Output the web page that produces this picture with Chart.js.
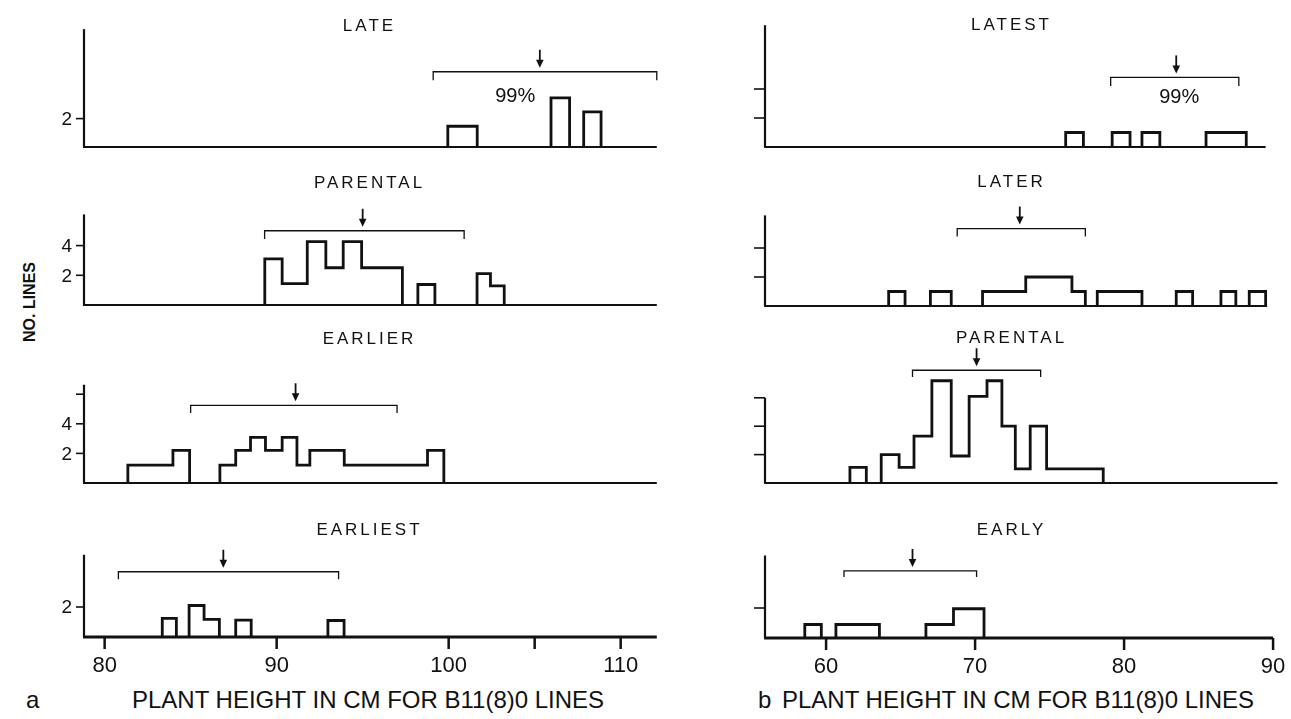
<!DOCTYPE html>
<html lang="en">
<head>
    <meta charset="UTF-8">
    <title>Plant height in cm for B11(8)0 lines</title>
    <script src="https://cdn.jsdelivr.net/npm/chart.js"></script>
    <style>
        body { margin: 0; width: 1291px; height: 719px; position: relative; overflow: hidden; background: #fff; color: #111; font-family: "Liberation Sans", Arial, sans-serif; }
        canvas { position: absolute; }
        .txt { position: absolute; white-space: nowrap; line-height: 1; }
        #ylab { left: 30px; top: 302px; font-size: 16px; font-weight: bold; transform: translate(-50%, -50%) rotate(-90deg); }
        .cap { font-size: 24px; top: 688px; }
    </style>
</head>
<body>
    <div class="txt" id="ylab">NO. LINES</div>
    <div class="txt cap" style="left: 26px;">a</div>
    <div class="txt cap" style="left: 132px;">PLANT HEIGHT IN CM FOR B11(8)0 LINES</div>
    <div class="txt cap" style="left: 758px;">b</div>
    <div class="txt cap" style="left: 782px;">PLANT HEIGHT IN CM FOR B11(8)0 LINES</div>

    <script>
        // bins: [from cm, to cm, no. of lines]
        const lateBins = [[99.95, 101.66, 1.46], [105.95, 107.03, 3.46], [107.85, 108.86, 2.47]];
        const parentalABins = [[89.31, 90.32, 3.11], [90.32, 91.78, 1.44], [91.78, 92.86, 4.27], [92.86, 93.87, 2.51],
            [93.87, 94.94, 4.27], [94.94, 97.31, 2.51], [98.21, 99.2, 1.38], [101.65, 102.43, 2.11], [102.43, 103.23, 1.29]];
        const earlierBins = [[81.35, 83.97, 1.21], [83.97, 84.94, 2.2], [86.7, 87.62, 1.21], [87.62, 88.48, 2.2],
            [88.48, 89.35, 3.08], [89.35, 90.32, 2.2], [90.32, 91.18, 3.08], [91.18, 91.93, 1.21],
            [91.93, 93.93, 2.2], [93.93, 98.77, 1.21], [98.77, 99.72, 2.2]];
        const earliestBins = [[83.35, 84.17, 1.24], [84.91, 85.78, 2.1], [85.78, 86.67, 1.17], [87.62, 88.52, 1.13], [92.98, 93.92, 1.1]];

        const latestBins = [[76.08, 77.27, 1], [79.2, 80.4, 1], [81.2, 82.4, 1], [85.5, 88.2, 1]];
        const laterBins = [[64.2, 65.3, 1], [67.0, 68.4, 1], [70.5, 73.4, 1], [73.4, 76.5, 2], [76.5, 77.4, 1],
            [78.2, 81.2, 1], [83.5, 84.6, 1], [86.5, 87.5, 1], [88.4, 89.5, 1]];
        const parentalBBins = [[61.6, 62.7, 1.1], [63.7, 64.9, 2], [64.9, 65.9, 1.1], [65.9, 67.1, 3.3], [67.1, 68.4, 7.2],
            [68.4, 69.6, 1.9], [69.6, 70.8, 6.1], [70.8, 71.8, 7.2], [71.8, 72.7, 4], [72.7, 73.7, 1],
            [73.7, 74.8, 4], [74.8, 78.6, 1]];
        const earlyBins = [[58.57, 59.68, 0.9], [60.66, 63.58, 0.9], [66.7, 68.55, 0.9], [68.55, 70.6, 1.95]];

        // panel order: a = LATE, PARENTAL, EARLIER, EARLIEST ; b = LATEST, LATER, PARENTAL, EARLY
        const panelTitles = ['LATE', 'PARENTAL', 'EARLIER', 'EARLIEST', 'LATEST', 'LATER', 'PARENTAL', 'EARLY'];
        const panelBins = [lateBins, parentalABins, earlierBins, earliestBins, latestBins, laterBins, parentalBBins, earlyBins];
        const rangeLow = [99.1, 89.3, 85.0, 80.8, 79.1, 68.8, 65.8, 61.2];
        const rangeHigh = [112.1, 100.9, 97.0, 93.6, 87.7, 77.4, 74.4, 70.1];
        const meanMark = [105.3, 95.0, 91.1, 86.9, 83.5, 73.0, 70.1, 65.8];
        const pctLabel = ['99%', '', '', '', '99%', '', '', ''];
        const yTicks = [[2], [2, 4], [2, 4, 6], [2], [2, 4], [2, 4], [2, 4, 6], [2]];
        const yTickLabels = [['2'], ['2', '4'], ['2', '4', ''], ['2'], [], [], [], []];
        const xTicksA = [80, 90, 100, 105, 110];
        const xLabelsA = ['80', '90', '100', '', '110'];
        const xTicksB = [60, 70, 80, 90];
        const xLabelsB = ['60', '70', '80', '90'];

        const ink = '#111';

        // column geometry (px) and the cm range each column covers
        const columns = {
            a: { left: 0, width: 680, areaLeft: 84, areaRight: 658, min: 78.8, max: 112.17, titleX: 368, tickLen: 8, xTicks: xTicksA, xLabels: xLabelsA },
            b: { left: 690, width: 601, areaLeft: 765, areaRight: 1278, min: 55.9, max: 90.33, titleX: 1010, tickLen: 11, xTicks: xTicksB, xLabels: xLabelsB }
        };

        // base = baseline y (px), ppu = px per line, the rest in "no. lines" units
        const layout = [
            { col: 'a', base: 147, ppu: 14.2, title: 8.5, axisTop: 8.3, brY: 5.3, drop: 0.6, end: 112.1, pct: [103.87, 3.58] },
            { col: 'a', base: 305, ppu: 14.85, title: 8.2, axisTop: 6.1, brY: 5.0, drop: 0.56, end: 112.1 },
            { col: 'a', base: 483, ppu: 14.8, title: 9.7, axisTop: 6.64, brY: 5.25, drop: 0.52, end: 112.1 },
            { col: 'a', base: 637, ppu: 15, title: 7.1, axisTop: 5.48, brY: 4.35, drop: 0.5, end: 112.1, xAxis: true },
            { col: 'b', base: 147, ppu: 14.5, title: 8.4, axisTop: 8.4, brY: 4.8, drop: 0.6, end: 89.5, pct: [83.7, 3.4] },
            { col: 'b', base: 306, ppu: 14.5, title: 8.5, axisTop: 6.25, brY: 5.34, drop: 0.54, end: 89.6 },
            { col: 'b', base: 483, ppu: 14.2, title: 10.2, axisTop: 6.0, brY: 7.94, drop: 0.47, end: 90.3 },
            { col: 'b', base: 638, ppu: 15, title: 7.15, axisTop: 5.5, brY: 4.47, drop: 0.41, end: 90.0, xAxis: true }
        ];

        // turn bins into outline points, one dataset for each run of touching bins
        function outlineDatasets(bins) {
            const runs = [];
            let run = null, lastTo = null;
            bins.forEach(([from, to, n]) => {
                if (run === null || Math.abs(from - lastTo) > 0.05) {
                    if (run) { run.push({ x: lastTo, y: 0 }); runs.push(run); }
                    run = [{ x: from, y: 0 }];
                }
                run.push({ x: from, y: n });
                lastTo = to;
            });
            if (run) { run.push({ x: lastTo, y: 0 }); runs.push(run); }
            return runs.map(pts => ({
                data: pts,
                stepped: true,
                borderColor: ink,
                borderWidth: 2.8,
                pointRadius: 0,
                fill: false,
                clip: false
            }));
        }

        function decor(i, p, c) {
            return {
                id: 'decor' + i,
                afterDatasetsDraw(chart) {
                    const ctx = chart.ctx;
                    const X = v => chart.scales.x.getPixelForValue(v);
                    const Y = v => chart.scales.y.getPixelForValue(v);
                    const x0 = X(c.min);
                    ctx.save();
                    ctx.strokeStyle = ink;
                    ctx.fillStyle = ink;

                    // axes
                    ctx.lineWidth = 2.2;
                    ctx.beginPath();
                    ctx.moveTo(x0, Y(p.axisTop));
                    ctx.lineTo(x0, Y(0));
                    ctx.stroke();
                    ctx.lineWidth = p.xAxis ? 3 : 2;
                    ctx.beginPath();
                    ctx.moveTo(x0 - 1, Y(0));
                    ctx.lineTo(X(p.end), Y(0));
                    ctx.stroke();

                    // y ticks
                    ctx.lineWidth = 1.6;
                    ctx.font = '19px "Liberation Sans", Arial, sans-serif';
                    ctx.textAlign = 'right';
                    ctx.textBaseline = 'middle';
                    yTicks[i].forEach((t, k) => {
                        ctx.beginPath();
                        ctx.moveTo(x0 - c.tickLen, Y(t));
                        ctx.lineTo(x0, Y(t));
                        ctx.stroke();
                        const lab = yTickLabels[i][k];
                        if (lab) ctx.fillText(lab, x0 - 12, Y(t) + 1);
                    });

                    // x ticks on the bottom panels
                    if (p.xAxis) {
                        ctx.lineWidth = 2.5;
                        ctx.font = '22px "Liberation Sans", Arial, sans-serif';
                        ctx.textAlign = 'center';
                        ctx.textBaseline = 'middle';
                        c.xTicks.forEach((t, k) => {
                            ctx.beginPath();
                            ctx.moveTo(X(t), Y(0));
                            ctx.lineTo(X(t), Y(0) + 12);
                            ctx.stroke();
                            if (c.xLabels[k]) ctx.fillText(c.xLabels[k], X(t), Y(0) + 29);
                        });
                    }

                    // confidence bracket and arrow at the mean
                    ctx.lineWidth = 1.3;
                    ctx.beginPath();
                    ctx.moveTo(X(rangeLow[i]), Y(p.brY - p.drop));
                    ctx.lineTo(X(rangeLow[i]), Y(p.brY));
                    ctx.lineTo(X(rangeHigh[i]), Y(p.brY));
                    ctx.lineTo(X(rangeHigh[i]), Y(p.brY - p.drop));
                    ctx.stroke();
                    const ax = X(meanMark[i]);
                    const tip = Y(p.brY) - 4;
                    ctx.lineWidth = 1.8;
                    ctx.beginPath();
                    ctx.moveTo(ax, tip - 18);
                    ctx.lineTo(ax, tip - 6);
                    ctx.stroke();
                    ctx.beginPath();
                    ctx.moveTo(ax - 3.8, tip - 8);
                    ctx.lineTo(ax + 3.8, tip - 8);
                    ctx.lineTo(ax, tip);
                    ctx.closePath();
                    ctx.fill();

                    if (pctLabel[i]) {
                        ctx.font = '20px "Liberation Sans", Arial, sans-serif';
                        ctx.textAlign = 'center';
                        ctx.textBaseline = 'middle';
                        ctx.fillText(pctLabel[i], X(p.pct[0]), Y(p.pct[1]));
                    }

                    // panel title
                    ctx.font = '17px "Liberation Sans", Arial, sans-serif';
                    ctx.letterSpacing = '3px';
                    ctx.textAlign = 'center';
                    ctx.textBaseline = 'middle';
                    ctx.fillText(panelTitles[i], c.titleX - c.left + 1.5, Y(p.title));
                    ctx.restore();
                }
            };
        }

        layout.forEach((p, i) => {
            const c = columns[p.col];
            const areaTop = p.base - p.title * p.ppu;
            const padTop = 16;
            const padBottom = p.xAxis ? 50 : 14;
            const top = Math.round(areaTop - padTop);
            const height = Math.round(p.base + padBottom) - top;

            const canvas = document.createElement('canvas');
            canvas.width = c.width;
            canvas.height = height;
            canvas.style.left = c.left + 'px';
            canvas.style.top = top + 'px';
            canvas.style.width = c.width + 'px';
            canvas.style.height = height + 'px';
            document.body.appendChild(canvas);

            new Chart(canvas, {
                type: 'line',
                data: { datasets: outlineDatasets(panelBins[i]) },
                options: {
                    responsive: false,
                    animation: false,
                    events: [],
                    layout: {
                        padding: {
                            left: c.areaLeft - c.left,
                            right: c.left + c.width - c.areaRight,
                            top: areaTop - top,
                            bottom: top + height - p.base
                        }
                    },
                    scales: {
                        x: { type: 'linear', min: c.min, max: c.max, display: false },
                        y: { type: 'linear', min: 0, max: p.title, display: false }
                    },
                    plugins: {
                        legend: { display: false },
                        tooltip: { enabled: false }
                    }
                },
                plugins: [decor(i, p, c)]
            });
        });
    </script>
</body>
</html>
